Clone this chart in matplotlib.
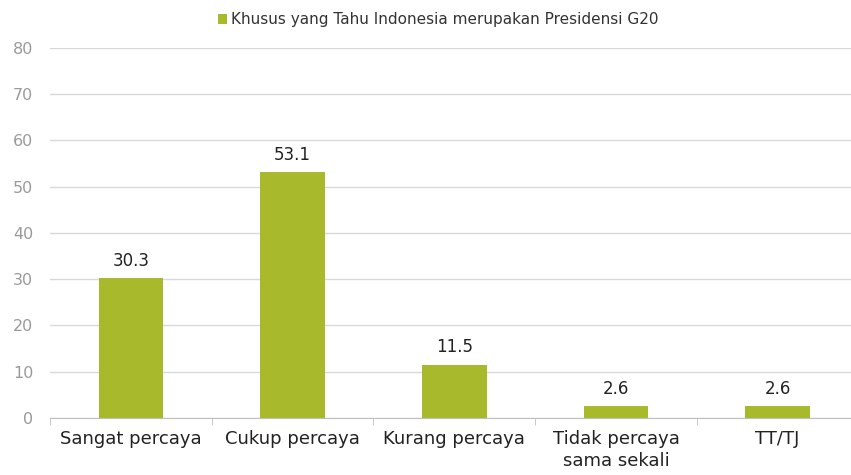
import numpy as np
import matplotlib.pyplot as plt
from matplotlib.patches import Patch

# data
categories = ['Sangat percaya', 'Cukup percaya', 'Kurang percaya', 'Tidak percaya\nsama sekali', 'TT/TJ']
values = [30.3, 53.1, 11.5, 2.6, 2.6]
series_name = 'Khusus yang Tahu Indonesia merupakan Presidensi G20'
yticks = [0, 10, 20, 30, 40, 50, 60, 70, 80]

bar_color = '#A8B92B'

plt.rcParams['font.family'] = ['DejaVu Sans']

fig = plt.figure(figsize=(8.51, 4.75), dpi=100)
ax = fig.add_axes([0.0588, 0.12, 0.95, 0.779])

x = np.arange(len(categories))
bars = ax.bar(x, values, width=0.4, color=bar_color, zorder=3)

# value labels
for xi, v in zip(x, values):
    ax.annotate(f'{v}', (xi, v), xytext=(0, 6), textcoords='offset points',
                ha='center', va='bottom', fontsize=12, color='#222222')

ax.set_xlim(-0.5, len(categories) - 0.5)
ax.set_ylim(0, 80)
ax.set_yticks(yticks)
ax.yaxis.grid(True, color='#d9d9d9', linewidth=1, zorder=0)
ax.tick_params(axis='y', length=0, labelsize=11.5, labelcolor='#9a9a9a', pad=12)

ax.set_xticks(x)
ax.set_xticklabels(categories, fontsize=13, color='#222222', linespacing=1.25)
ax.set_xticks(np.arange(-0.5, len(categories)), minor=True)
ax.tick_params(axis='x', which='major', length=0, pad=9)
ax.tick_params(axis='x', which='minor', length=5, color='#bfbfbf', direction='out')

for s in ['top', 'right', 'left']:
    ax.spines[s].set_visible(False)
ax.spines['bottom'].set_color('#bfbfbf')
ax.spines['bottom'].set_zorder(4)

handle = Patch(facecolor=bar_color, label=series_name)
fig.legend(handles=[handle], loc='center', bbox_to_anchor=(0.515, 0.958),
           frameon=False, fontsize=11, handlelength=0.6, handleheight=0.6,
           handletextpad=0.3, labelcolor='#333333')

fig.savefig('out.png', dpi=100)
